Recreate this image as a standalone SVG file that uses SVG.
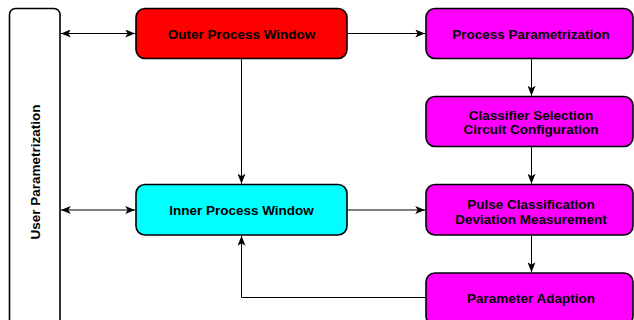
<svg xmlns="http://www.w3.org/2000/svg" width="634" height="320" viewBox="0 0 634 320">
<style>
.box{stroke:#000;stroke-width:1.6}
.t{font-family:"Liberation Sans",Arial,sans-serif;font-weight:bold;font-size:13.5px;text-anchor:middle;fill:#000}
.c{fill:none;stroke:#000;stroke-width:1}
</style>
<defs>
<marker id="a" viewBox="0 0 10 8" refX="10" refY="4" markerWidth="10" markerHeight="8" markerUnits="userSpaceOnUse" orient="auto-start-reverse">
<path d="M0,0 L10,4 L0,8 L2.5,4 Z" fill="#000"/>
</marker>
</defs>
<rect width="634" height="320" fill="#fff"/>
<g id="user">
<rect class="box" x="9.5" y="8.5" width="50.5" height="318" rx="6" fill="#fff"/>
<text class="t" transform="translate(40,172) rotate(-90)">User Parametrization</text>
</g>
<g id="outer">
<rect class="box" x="136" y="8.5" width="211" height="50" rx="9" fill="#ff0000"/>
<text class="t" x="241.5" y="39">Outer Process Window</text>
</g>
<g id="procparam">
<rect class="box" x="426" y="8.5" width="207" height="50" rx="9" fill="#ff00ff"/>
<text class="t" x="531" y="39">Process Parametrization</text>
</g>
<g id="classifier">
<rect class="box" x="426" y="96.5" width="207" height="50" rx="9" fill="#ff00ff"/>
<text class="t" x="531" y="119.5">Classifier Selection</text>
<text class="t" x="531" y="134">Circuit Configuration</text>
</g>
<g id="inner">
<rect class="box" x="136" y="184.5" width="211" height="50.5" rx="9" fill="#00ffff"/>
<text class="t" x="241.5" y="215">Inner Process Window</text>
</g>
<g id="pulse">
<rect class="box" x="426" y="184.5" width="207" height="50.5" rx="9" fill="#ff00ff"/>
<text class="t" x="531" y="208.5">Pulse Classification</text>
<text class="t" x="531" y="223.5">Deviation Measurement</text>
</g>
<g id="adapt">
<rect class="box" x="426" y="273" width="207" height="52" rx="9" fill="#ff00ff"/>
<text class="t" x="531" y="303">Parameter Adaption</text>
</g>
<g id="connectors">
<path class="c" d="M60.8,33.5 H135.2" marker-start="url(#a)" marker-end="url(#a)"/>
<path class="c" d="M60.8,210 H135.2" marker-start="url(#a)" marker-end="url(#a)"/>
<path class="c" d="M347.8,33.5 H425.2" marker-end="url(#a)"/>
<path class="c" d="M241.5,59.3 V183.7" marker-end="url(#a)"/>
<path class="c" d="M531.5,59.3 V95.7" marker-end="url(#a)"/>
<path class="c" d="M531.5,147.3 V183.7" marker-end="url(#a)"/>
<path class="c" d="M347.8,210 H425.2" marker-end="url(#a)"/>
<path class="c" d="M531.5,235.8 V272.2" marker-end="url(#a)"/>
<path class="c" d="M425.2,297.5 H241.5 V235.8" marker-end="url(#a)"/>
</g>
</svg>
